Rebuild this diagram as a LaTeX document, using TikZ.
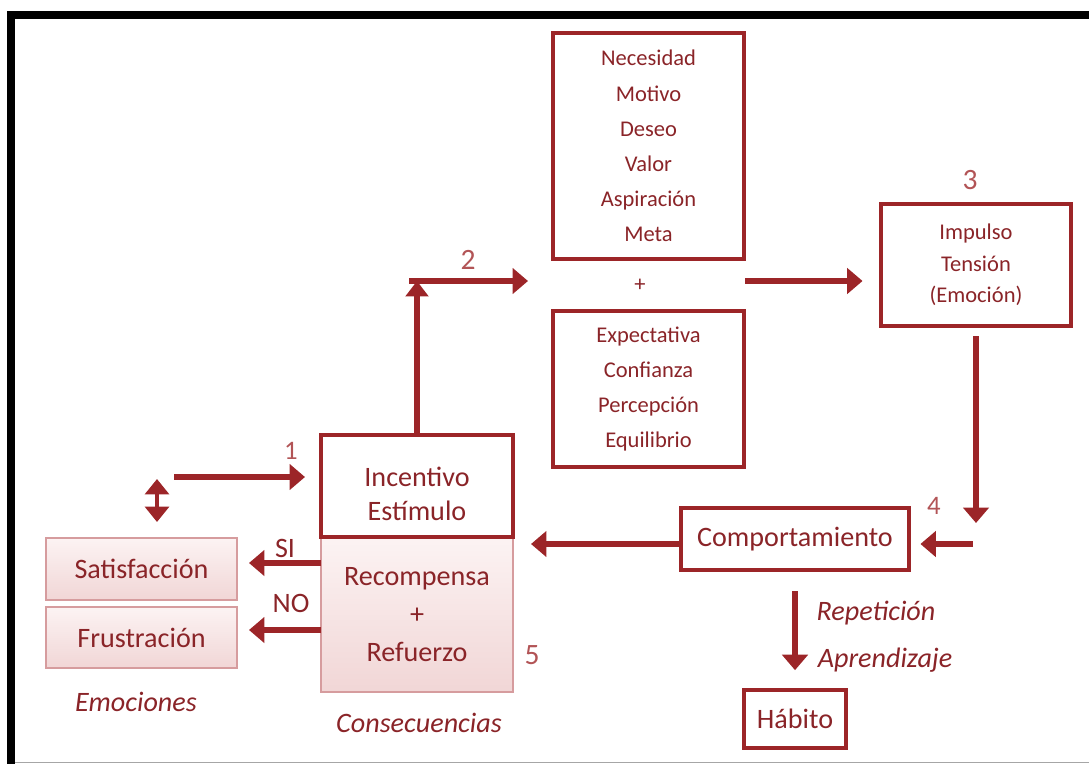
\documentclass[tikz,border=0pt]{standalone}
\usepackage{fontspec}
\setmainfont{Carlito}
\usetikzlibrary{arrows.meta,positioning}
\definecolor{rojo}{RGB}{156,37,40}
\definecolor{rojotxt}{RGB}{138,36,40}
\definecolor{rojonum}{RGB}{178,84,86}
\definecolor{rosa}{RGB}{241,214,214}
\definecolor{rosaclaro}{RGB}{252,243,243}
\definecolor{rosaborde}{RGB}{214,156,158}

\tikzset{
  caja/.style={draw=rojo, line width=2.2pt, text=rojotxt, align=center, inner sep=0pt},
  cajarosa/.style={draw=rosaborde, line width=1pt, top color=rosaclaro, bottom color=rosa, text=rojotxt, align=center, inner sep=0pt},
  flecha/.style={draw=rojo, line width=4pt, -{Triangle[width=18pt,length=11pt]}},
  doble/.style={draw=rojo, line width=3.5pt, {Triangle[width=17pt,length=11pt]}-{Triangle[width=17pt,length=11pt]}},
  grande/.style={font=\fontsize{20}{24}\selectfont},
  chica/.style={font=\fontsize{16}{25}\selectfont},
  num/.style={text=rojonum, font=\fontsize{21}{24}\selectfont},
  etiq/.style={text=rojotxt, font=\fontsize{20}{24}\selectfont},
  nota/.style={text=rojotxt, font=\fontsize{20}{24}\selectfont\itshape},
}

\begin{document}
\begin{tikzpicture}[x=0.025cm,y=-0.025cm]
  \useasboundingbox (0,0) rectangle (1089,764);
  % Marco
  \fill[black] (7,11) rectangle (1089,19);
  \fill[black] (7,11) rectangle (15,764);
  \draw[gray!70, line width=0.8pt] (15,762.5) -- (1089,762.5);

  % Cajas de arriba
  \node[caja, chica, minimum width=4.775cm, minimum height=5.65cm] (nec) at (648.5,146)
    {Necesidad\\Motivo\\Deseo\\Valor\\Aspiración\\Meta};
  \node[etiq, chica] (mas) at (640,285) {+};
  \node[caja, chica, minimum width=4.775cm, minimum height=3.9cm] (exp) at (648.5,389)
    {Expectativa\\Confianza\\Percepción\\Equilibrio};
  \node[caja, font=\fontsize{16}{22.4}\selectfont, minimum width=4.75cm, minimum height=3.05cm] (imp) at (976,265)
    {Impulso\\Tensión\\(Emoción)};

  % Comportamiento y habito
  \node[caja, grande, minimum width=5.7cm, minimum height=1.55cm] (comp) at (795,539) {Comportamiento};
  \node[caja, grande, minimum width=2.55cm, minimum height=1.45cm] (hab) at (795,719) {Hábito};

  % Consecuencias
  \node[cajarosa, font=\fontsize{20}{27}\selectfont, minimum width=4.8cm, minimum height=3.875cm] (rec) at (417,614.5)
    {Recompensa\\+\\Refuerzo};
  \node[caja, minimum width=4.8cm, minimum height=2.55cm] (inc) at (417,486) {};
  \node[etiq, align=center] (inctxt) at (417,494) {Incentivo\\Estímulo};

  % Emociones
  \node[cajarosa, grande, minimum width=4.775cm, minimum height=1.55cm] (sat) at (141.5,569) {Satisfacción};
  \node[cajarosa, grande, minimum width=4.775cm, minimum height=1.525cm] (fru) at (141.5,637.5) {Frustración};

  % Numeros y etiquetas
  \node[num, font=\fontsize{19}{22}\selectfont] (n1) at (291,451) {1};
  \node[num] (n2) at (468,260) {2};
  \node[num] (n3) at (970,180) {3};
  \node[num, font=\fontsize{19}{22}\selectfont] (n4) at (934,506) {4};
  \node[num] (n5) at (532,655) {5};
  \node[etiq] (si) at (285,548) {SI};
  \node[etiq] (no) at (291,603) {NO};
  \node[nota] (emo) at (136,702) {Emociones};
  \node[nota] (cons) at (419,723) {Consecuencias};
  \node[nota] (rep) at (876,613) {Repetición};
  \node[nota] (apr) at (885,660) {Aprendizaje};

  % Flechas
  \coordinate (c1a) at (174,477);
  \coordinate (c1b) at (305,477);
  \draw[flecha] (c1a) -- (c1b);
  \coordinate (d1) at (157,479);
  \coordinate (d2) at (157,522);
  \draw[doble] (d1) -- (d2);

  \coordinate (c2) at (417,281);
  \draw[flecha, -{Triangle[width=16pt,length=11pt]}] (inc.north) -- (c2);
  \coordinate (c2a) at (409,281);
  \coordinate (c2b) at (528,281);
  \draw[flecha] (c2a) -- (c2b);

  \coordinate (c3) at (745,281);
  \draw[flecha, shorten >=12pt] (c3) -- (c3 -| imp.west);
  \coordinate (c4) at (976,523);
  \draw[flecha, shorten <=6pt] (imp.south) -- (c4);
  \coordinate (c5) at (973,544);
  \draw[flecha, shorten >=7pt] (c5) -- (c5 -| comp.east);
  \coordinate (c6) at (531,544);
  \draw[flecha] (comp.west |- c6) -- (c6);
  \draw[flecha, shorten <=14pt, shorten >=13pt] (comp.south) -- (hab.north);

  \coordinate (csi) at (321,563);
  \draw[flecha, shorten >=8pt] (csi) -- (csi -| sat.east);
  \coordinate (cno) at (321,630);
  \draw[flecha, shorten >=8pt] (cno) -- (cno -| fru.east);
\end{tikzpicture}
\end{document}
